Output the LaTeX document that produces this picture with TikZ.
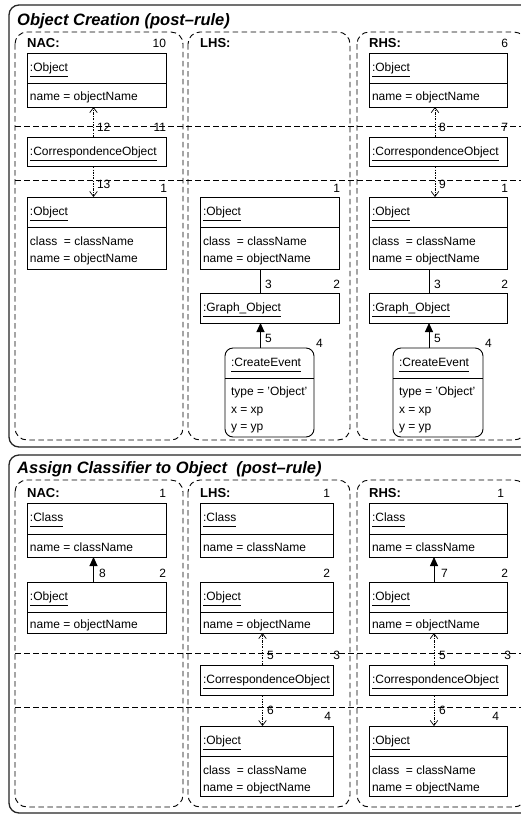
\documentclass[tikz,border=0pt]{standalone}
\usepackage{fontspec}
\setmainfont{Liberation Sans}
\usetikzlibrary{arrows.meta}

\tikzset{
  ruleframe/.style={draw=black!85, line width=1.3pt, rounded corners=10pt},
  region/.style={draw=black, line width=0.9pt, dash pattern=on 5.5pt off 3.5pt, rounded corners=12pt},
  separator/.style={draw=black, line width=0.9pt, dash pattern=on 5.5pt off 3.5pt},
  objframe/.style={draw, line width=0.9pt, inner sep=0pt, outer sep=0pt},
  eventframe/.style={objframe, rounded corners=8pt},
  lbl/.style={inner sep=0pt, outer sep=0pt, font=\fontsize{12}{14}\selectfont},
  rulehead/.style={inner sep=0pt, anchor=base west, font=\fontsize{16.5}{20}\selectfont\bfseries\itshape},
  parthead/.style={inner sep=0pt, anchor=base west, font=\fontsize{13}{16}\selectfont\bfseries},
  assoc/.style={draw, line width=0.9pt},
  owner/.style={draw, line width=0.9pt, -{Triangle[length=9pt,width=8pt]}},
  corr/.style={draw, line width=0.6pt, dash pattern=on 2.2pt off 1.4pt on 0.6pt off 1.4pt,
               -{Straight Barb[length=5pt,width=7.5pt,line width=0.7pt]}},
}

% object frame: name, x1, y1, x2, y2, style
\newcommand\objbox[6]{%
  \node[#6, minimum width=#4pt-#2pt, minimum height=#5pt-#3pt] (#1) at ({(#2+#4)/2},{(#3+#5)/2}) {};}
% underlined object name: node, left padding, text
\newcommand\objname[3]{%
  \node[lbl, anchor=base west] (#1-n) at ([xshift=#2pt,yshift=-18pt]#1.north west) {#3};
  \draw[line width=0.8pt] ([yshift=-5.5pt]#1-n.base west) -- ([yshift=-5.5pt]#1-n.base east);}
% compartment line: node, offset from top
\newcommand\objdiv[2]{%
  \draw[line width=0.9pt] ([yshift=-#2pt]#1.north west) -- ([yshift=-#2pt]#1.north east);}
% attribute line: node, suffix, left padding, baseline offset, text
\newcommand\objattr[5]{%
  \node[lbl, anchor=base west] (#1-#2) at ([xshift=#3pt,yshift=-#4pt]#1.north west) {#5};}

\begin{document}
\begin{tikzpicture}[x=1pt,y=-1pt]
\useasboundingbox (0,0) rectangle (521,815);
\clip (0,0) rectangle (521,815);
\fill[white] (0,0) rectangle (521,815);

% ================= Object Creation =================
\draw[ruleframe] (9,5) rectangle (545,447);
\node[rulehead] (ruleA) at (17,25) {Object Creation (post–rule)};
\draw[region] (15,32) rectangle (183,440);
\draw[region] (188,32) rectangle (350,440);
\draw[region] (357,32) rectangle (526,440);
\draw[separator] (15,126) -- (530,126);
\draw[separator] (15,180) -- (530,180);
\node[parthead] (nacA) at (27,47) {NAC:};
\node[parthead] (lhsA) at (200,47) {LHS:};
\node[parthead] (rhsA) at (369,47) {RHS:};

% NAC
\objbox{nA1}{27}{53}{166}{107}{objframe}
\objname{nA1}{3}{:Object}
\objdiv{nA1}{30}
\objattr{nA1}{a}{3}{47}{name = objectName}

\objbox{nA2}{27}{137}{166}{166}{objframe}
\objname{nA2}{3}{:CorrespondenceObject}

\objbox{nA3}{27}{197}{166}{269}{objframe}
\objname{nA3}{3}{:Object}
\objdiv{nA3}{30}
\objattr{nA3}{a}{3}{48}{class\ \ = className}
\objattr{nA3}{b}{3}{65}{name = objectName}

\draw[corr] ([xshift=-3pt]nA2.north) -- ([xshift=-3pt]nA1.south);
\draw[corr] ([xshift=-3pt]nA2.south) -- ([xshift=-3pt]nA3.north);

\node[lbl, anchor=base east] (lA10) at (166,47) {10};
\node[lbl, anchor=base west] (lA12) at (97,131) {12};
\node[lbl, anchor=base east] (lA11) at (166,131) {11};
\node[lbl, anchor=base west] (lA13) at (97,188) {13};
\node[lbl, anchor=base east] (lA1n) at (167,192) {1};

% LHS
\objbox{lA1}{200}{197}{339}{269}{objframe}
\objname{lA1}{3}{:Object}
\objdiv{lA1}{30}
\objattr{lA1}{a}{3}{48}{class\ \ = className}
\objattr{lA1}{b}{3}{65}{name = objectName}

\objbox{lA2}{200}{293}{339}{323}{objframe}
\objname{lA2}{3}{:Graph\_Object}

\objbox{lA3}{225}{348}{314}{437}{eventframe}
\objname{lA3}{6}{:CreateEvent}
\objdiv{lA3}{30}
\objattr{lA3}{a}{6}{47}{type = 'Object'}
\objattr{lA3}{b}{6}{65}{x = xp}
\objattr{lA3}{c}{6}{82}{y = yp}

\draw[assoc] ([xshift=-9pt]lA1.south) -- ([xshift=-9pt]lA2.north);
\draw[owner] ([xshift=-9pt]lA3.north) -- ([xshift=-9pt]lA2.south);

\node[lbl, anchor=base east] (lA1l) at (340,192) {1};
\node[lbl, anchor=base west] (lA3l) at (265,288) {3};
\node[lbl, anchor=base east] (lA2l) at (340,288) {2};
\node[lbl, anchor=base west] (lA5l) at (265,342) {5};
\node[lbl, anchor=base west] (lA4l) at (316,347) {4};

% RHS
\objbox{rA1}{369}{53}{507}{107}{objframe}
\objname{rA1}{3}{:Object}
\objdiv{rA1}{30}
\objattr{rA1}{a}{3}{47}{name = objectName}

\objbox{rA2}{369}{137}{507}{166}{objframe}
\objname{rA2}{3}{:CorrespondenceObject}

\objbox{rA3}{369}{197}{507}{269}{objframe}
\objname{rA3}{3}{:Object}
\objdiv{rA3}{30}
\objattr{rA3}{a}{3}{48}{class\ \ = className}
\objattr{rA3}{b}{3}{65}{name = objectName}

\objbox{rA4}{369}{293}{507}{323}{objframe}
\objname{rA4}{3}{:Graph\_Object}

\objbox{rA5}{393}{348}{483}{437}{eventframe}
\objname{rA5}{6}{:CreateEvent}
\objdiv{rA5}{30}
\objattr{rA5}{a}{6}{47}{type = 'Object'}
\objattr{rA5}{b}{6}{65}{x = xp}
\objattr{rA5}{c}{6}{82}{y = yp}

\draw[corr] ([xshift=-3pt]rA2.north) -- ([xshift=-3pt]rA1.south);
\draw[corr] ([xshift=-3pt]rA2.south) -- ([xshift=-3pt]rA3.north);
\draw[assoc] ([xshift=-9pt]rA3.south) -- ([xshift=-9pt]rA4.north);
\draw[owner] ([xshift=-9pt]rA5.north) -- ([xshift=-9pt]rA4.south);

\node[lbl, anchor=base east] (rA6l) at (508,47) {6};
\node[lbl, anchor=base west] (rA8l) at (439,131) {8};
\node[lbl, anchor=base east] (rA7l) at (508,131) {7};
\node[lbl, anchor=base west] (rA9l) at (439,188) {9};
\node[lbl, anchor=base east] (rA1l) at (508,192) {1};
\node[lbl, anchor=base west] (rA3l) at (434,288) {3};
\node[lbl, anchor=base east] (rA2l) at (508,288) {2};
\node[lbl, anchor=base west] (rA5l) at (434,342) {5};
\node[lbl, anchor=base west] (rA4l) at (485,347) {4};

% ================= Assign Classifier to Object =================
\draw[ruleframe] (9,455) rectangle (545,813);
\node[rulehead] (ruleB) at (17,473) {Assign Classifier to Object\ \ (post–rule)};
\draw[region] (15,480) rectangle (183,807);
\draw[region] (188,480) rectangle (350,807);
\draw[region] (357,480) rectangle (526,807);
\draw[separator] (15,653) -- (530,653);
\draw[separator] (15,707) -- (530,707);
\node[parthead] (nacB) at (27,497) {NAC:};
\node[parthead] (lhsB) at (200,497) {LHS:};
\node[parthead] (rhsB) at (369,497) {RHS:};

% NAC
\objbox{nB1}{27}{503}{166}{557}{objframe}
\objname{nB1}{3}{:Class}
\objdiv{nB1}{31}
\objattr{nB1}{a}{3}{48}{name = className}

\objbox{nB2}{27}{582}{166}{633}{objframe}
\objname{nB2}{3}{:Object}
\objdiv{nB2}{30}
\objattr{nB2}{a}{3}{46}{name = objectName}

\draw[owner] ([xshift=-3pt]nB2.north) -- ([xshift=-3pt]nB1.south);

\node[lbl, anchor=base east] (nB1l) at (166,497) {1};
\node[lbl, anchor=base west] (nB8l) at (99,577) {8};
\node[lbl, anchor=base east] (nB2l) at (166,577) {2};

% LHS
\objbox{lB1}{200}{503}{333}{557}{objframe}
\objname{lB1}{3}{:Class}
\objdiv{lB1}{31}
\objattr{lB1}{a}{3}{48}{name = className}

\objbox{lB2}{200}{582}{333}{633}{objframe}
\objname{lB2}{3}{:Object}
\objdiv{lB2}{30}
\objattr{lB2}{a}{3}{46}{name = objectName}

\objbox{lB3}{200}{665}{333}{695}{objframe}
\objname{lB3}{3}{:CorrespondenceObject}

\objbox{lB4}{200}{726}{333}{796}{objframe}
\objname{lB4}{3}{:Object}
\objdiv{lB4}{30}
\objattr{lB4}{a}{3}{48}{class\ \ = className}
\objattr{lB4}{b}{3}{65}{name = objectName}

\draw[corr] ([xshift=-4pt]lB3.north) -- ([xshift=-4pt]lB2.south);
\draw[corr] ([xshift=-4pt]lB3.south) -- ([xshift=-4pt]lB4.north);

\node[lbl, anchor=base east] (lB1l) at (330,497) {1};
\node[lbl, anchor=base east] (lB2l) at (330,577) {2};
\node[lbl, anchor=base west] (lB5l) at (267,659) {5};
\node[lbl, anchor=base east] (lB3l) at (340,659) {3};
\node[lbl, anchor=base west] (lB6l) at (267,714) {6};
\node[lbl, anchor=base east] (lB4l) at (331,720) {4};

% RHS
\objbox{rB1}{369}{503}{507}{557}{objframe}
\objname{rB1}{3}{:Class}
\objdiv{rB1}{31}
\objattr{rB1}{a}{3}{48}{name = className}

\objbox{rB2}{369}{582}{507}{633}{objframe}
\objname{rB2}{3}{:Object}
\objdiv{rB2}{30}
\objattr{rB2}{a}{3}{46}{name = objectName}

\objbox{rB3}{369}{665}{507}{695}{objframe}
\objname{rB3}{3}{:CorrespondenceObject}

\objbox{rB4}{369}{726}{507}{796}{objframe}
\objname{rB4}{3}{:Object}
\objdiv{rB4}{30}
\objattr{rB4}{a}{3}{48}{class\ \ = className}
\objattr{rB4}{b}{3}{65}{name = objectName}

\draw[owner] ([xshift=-4pt]rB2.north) -- ([xshift=-4pt]rB1.south);
\draw[corr] ([xshift=-4pt]rB3.north) -- ([xshift=-4pt]rB2.south);
\draw[corr] ([xshift=-4pt]rB3.south) -- ([xshift=-4pt]rB4.north);

\node[lbl, anchor=base east] (rB1l) at (504,497) {1};
\node[lbl, anchor=base west] (rB7l) at (441,577) {7};
\node[lbl, anchor=base east] (rB2l) at (508,577) {2};
\node[lbl, anchor=base west] (rB5l) at (439,659) {5};
\node[lbl, anchor=base east] (rB3l) at (511,659) {3};
\node[lbl, anchor=base west] (rB6l) at (439,714) {6};
\node[lbl, anchor=base east] (rB4l) at (499,720) {4};
\end{tikzpicture}
\end{document}
